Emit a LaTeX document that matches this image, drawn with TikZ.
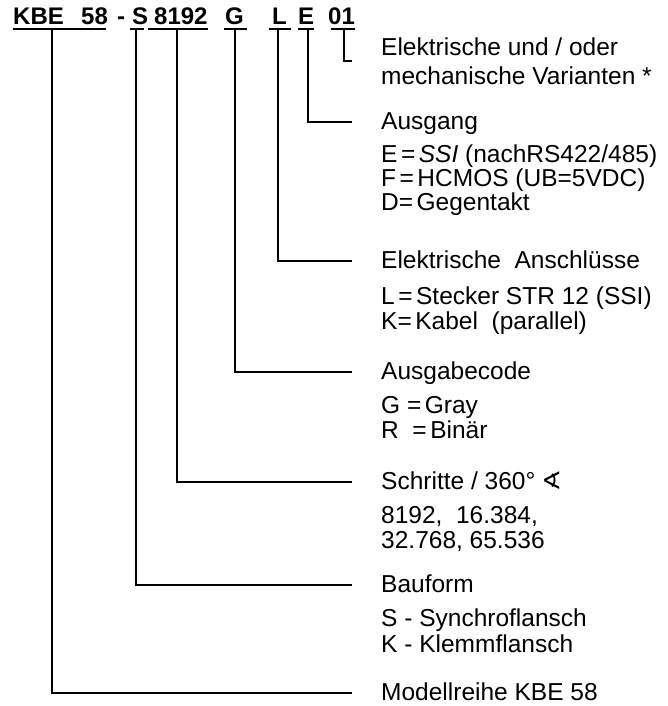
\documentclass[tikz,border=0pt]{standalone}
\usepackage{fontspec}
\setmainfont{Liberation Sans}
\newfontfamily\symfont{DejaVu Sans}

\newcommand{\bodyfont}{\fontsize{24.5}{25}\selectfont}
\newcommand{\codefont}{\fontsize{24}{24}\selectfont\bfseries}
\newcommand{\eqs}{\kern3.5pt=\kern3.5pt}

\begin{document}
\begin{tikzpicture}[
  x=1pt, y=-1pt,
  code/.style={font=\codefont, inner sep=0pt, anchor=base west},
  head/.style={font=\bodyfont, inner sep=0pt, anchor=west,
    text height=15pt, text depth=0pt},
  block/.style={font=\fontsize{24.5}{29}\selectfont, inner sep=0pt,
    anchor=west, align=left},
  item/.style={font=\bodyfont, inner sep=0pt, anchor=base west},
  uline/.style={line width=1.4pt},
  lead/.style={line width=1.1pt, shorten >=29pt},
]
  \useasboundingbox (0,0) rectangle (668,706);

  % Type code
  \node[code] (kbe) at (13,25) {KBE};
  \node[code] (k58) at (81,25) {58};
  \node[code] (dash) at (117,25) {-};
  \node[code] (s) at (132,25) {S};
  \node[code] (steps) at (154,25) {8192};
  \node[code] (g) at (225,25) {G};
  \node[code] (l) at (272,25) {L};
  \node[code] (e) at (298,25) {E};
  \node[code] (var) at (328,25) {01};

  % Underlines under the code parts
  \draw[uline] ([yshift=-4pt]kbe.base west) -- ([xshift=-2pt,yshift=-4pt]k58.base east);
  \draw[uline] ([xshift=-2pt,yshift=-4pt]s.base west) -- ([xshift=-4pt,yshift=-4pt]s.base east);
  \draw[uline] ([xshift=-6pt,yshift=-4pt]steps.base west) -- ([yshift=-4pt]steps.base east);
  \draw[uline] ([xshift=-1pt,yshift=-4pt]g.base west) -- ([xshift=3pt,yshift=-4pt]g.base east);
  \draw[uline] ([xshift=-3pt,yshift=-4pt]l.base west) -- ([xshift=4pt,yshift=-4pt]l.base east);
  \draw[uline] ([yshift=-4pt]e.base west) -- ([yshift=-4pt]e.base east);
  \draw[uline] ([xshift=3pt,yshift=-4pt]var.base west) -- ([yshift=-4pt]var.base east);

  % Taps on the underlines
  \coordinate (tapkbe) at (52,29);
  \coordinate (taps) at (136,29);
  \coordinate (tapsteps) at (177,29);
  \coordinate (tapg) at (235,29);
  \coordinate (tapl) at (278,29);
  \coordinate (tape) at (308,29);
  \coordinate (tapvar) at (344,29);

  % Explanations
  \node[block] (varianten) at (381,61) {Elektrische und / oder\\mechanische Varianten *};

  \node[head] (ausgang) at (381,122) {Ausgang};
  \node[item] (oute) at (381,162) {E\eqs\textit{SSI} (nachRS422/485)};
  \node[item] (outf) at (381,186) {F\eqs HCMOS (UB=5VDC)};
  \node[item] (outd) at (381,210) {D=\kern3.5pt Gegentakt};

  \node[head] (anschluss) at (381,261) {Elektrische\ \ Anschlüsse};
  \node[item] (conl) at (381,304) {L\eqs Stecker STR 12 (SSI)};
  \node[item] (conk) at (381,329) {K=\kern3.5pt Kabel\ \ (parallel)};

  \node[head] (ausgabe) at (381,372) {Ausgabecode};
  \node[item] (codeg) at (381,413) {G\ =\kern3.5pt Gray};
  \node[item] (coder) at (381,438) {R\ \ =\kern3.5pt Binär};

  \node[head] (schritte) at (381,482) {Schritte / 360°\kern6pt{\symfont ∢}};
  \node[item] (res1) at (381,523) {8192,\ \ 16.384,};
  \node[item] (res2) at (381,548) {32.768,\ 65.536};

  \node[head] (bauform) at (381,585) {Bauform};
  \node[item] (fls) at (381,626) {S - Synchroflansch};
  \node[item] (flk) at (381,652) {K - Klemmflansch};

  \node[head] (modell) at (381,693) {Modellreihe KBE 58};

  % Leaders from the code to the explanations
  \draw[lead] (tapvar) |- (varianten.west);
  \draw[lead] (tape) |- (ausgang.west);
  \draw[lead] (tapl) |- (anschluss.west);
  \draw[lead] (tapg) |- (ausgabe.west);
  \draw[lead] (tapsteps) |- (schritte.west);
  \draw[lead] (taps) |- (bauform.west);
  \draw[lead] (tapkbe) |- (modell.west);
\end{tikzpicture}
\end{document}
